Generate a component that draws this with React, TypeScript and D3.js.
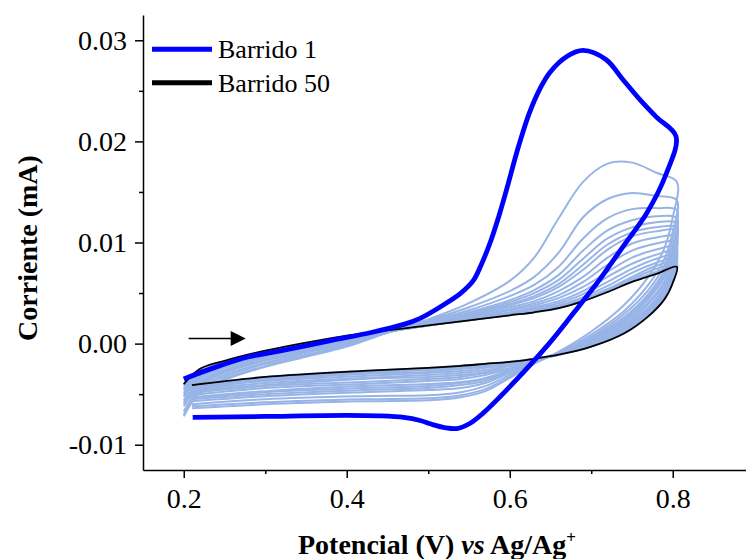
import React, { useEffect, useRef } from "react";
import * as d3 from "d3";

// potential grids (V) shared by the intermediate sweeps
const fwdPotential = [0.2, 0.22, 0.25, 0.3, 0.35, 0.4, 0.45, 0.5, 0.55, 0.6, 0.63, 0.66, 0.69, 0.72, 0.75, 0.78, 0.805];
const revPotential = [0.805, 0.8, 0.79, 0.77, 0.74, 0.7, 0.66, 0.63, 0.6, 0.57, 0.54, 0.5, 0.42, 0.3, 0.21];

// Barrido 1 (thick blue)
const barrido1FwdE = [0.2, 0.24, 0.28, 0.32, 0.38, 0.43, 0.47, 0.49, 0.52, 0.54, 0.555, 0.565, 0.576, 0.587, 0.596, 0.61, 0.624, 0.637, 0.649, 0.67, 0.69, 0.718, 0.739, 0.76, 0.78, 0.804];
const barrido1FwdI = [-0.0035, -0.0023, -0.0013, -0.0007, 0.0003, 0.0011, 0.0019, 0.0025, 0.0039, 0.005, 0.0062, 0.0078, 0.01, 0.0127, 0.0152, 0.0193, 0.0228, 0.0252, 0.0268, 0.0284, 0.029, 0.0281, 0.0261, 0.0241, 0.0224, 0.0205];
const barrido1RevE = [0.804, 0.792, 0.768, 0.739, 0.71, 0.678, 0.645, 0.596, 0.567, 0.551, 0.535, 0.52, 0.505, 0.49, 0.47, 0.44, 0.4, 0.3, 0.211];
const barrido1RevI = [0.0205, 0.0168, 0.0129, 0.0096, 0.0063, 0.003, -0.0003, -0.0046, -0.0069, -0.0079, -0.0084, -0.0083, -0.008, -0.0076, -0.0073, -0.00715, -0.0071, -0.0072, -0.0073];

// intermediate sweeps (light blue)
const sweep2Fwd = [-0.0072, -0.0048, -0.0036, -0.0023, -0.0013, -0.0003, 0.0011, 0.0024, 0.004, 0.0062, 0.0085, 0.0124, 0.016, 0.0178, 0.0179, 0.0169, 0.016];
const sweep2Rev = [0.016, 0.0125, 0.0095, 0.0066, 0.0038, 0.0012, -0.0008, -0.002, -0.0034, -0.0047, -0.0053, -0.0056, -0.0057, -0.006, -0.0064];
const sweep3Fwd = [-0.007, -0.0047, -0.0035, -0.0022, -0.0012, -0.0002, 0.0011, 0.0023, 0.0036, 0.0052, 0.0066, 0.009, 0.0125, 0.0143, 0.0149, 0.0146, 0.0142];
const sweep3Rev = [0.0142, 0.0111, 0.0084, 0.0058, 0.0032, 0.0009, -0.0009, -0.0019, -0.0033, -0.0045, -0.0051, -0.0054, -0.0055, -0.0058, -0.0062];
const sweep4Fwd = [-0.0067, -0.0044, -0.0033, -0.002, -0.0011, -0.0001, 0.0011, 0.0022, 0.0033, 0.0047, 0.0058, 0.0076, 0.0104, 0.0124, 0.0133, 0.0134, 0.0132];
const sweep4Rev = [0.0132, 0.0104, 0.0078, 0.0053, 0.0029, 0.0007, -0.0009, -0.0018, -0.0031, -0.0042, -0.0048, -0.0051, -0.0052, -0.0055, -0.006];
const sweep5Fwd = [-0.0062, -0.0042, -0.0031, -0.0019, -0.0009, 0.0, 0.0011, 0.0021, 0.0031, 0.0043, 0.0053, 0.0068, 0.0092, 0.0112, 0.0122, 0.0126, 0.0124];
const sweep5Rev = [0.0124, 0.0097, 0.0073, 0.0049, 0.0026, 0.0006, -0.0009, -0.0018, -0.0029, -0.0039, -0.0044, -0.0046, -0.0048, -0.0052, -0.0057];
const sweep6Fwd = [-0.006, -0.004, -0.0029, -0.0017, -0.0008, 0.0, 0.0011, 0.0021, 0.003, 0.0041, 0.005, 0.0063, 0.0084, 0.0104, 0.0115, 0.012, 0.0119];
const sweep6Rev = [0.0119, 0.0093, 0.007, 0.0047, 0.0024, 0.0005, -0.0009, -0.0018, -0.0028, -0.0037, -0.0041, -0.0044, -0.0046, -0.005, -0.0055];
const sweep7Fwd = [-0.0058, -0.0039, -0.0028, -0.0016, -0.0007, 0.0001, 0.0011, 0.002, 0.0029, 0.0039, 0.0047, 0.0059, 0.0078, 0.0098, 0.011, 0.0115, 0.0115];
const sweep7Rev = [0.0115, 0.009, 0.0068, 0.0045, 0.0023, 0.0004, -0.001, -0.0017, -0.0027, -0.0035, -0.0039, -0.0042, -0.0044, -0.0048, -0.0054];
const sweep8Fwd = [-0.0056, -0.0038, -0.0027, -0.0016, -0.0007, 0.0002, 0.0012, 0.002, 0.0028, 0.0038, 0.0045, 0.0056, 0.0073, 0.0093, 0.0106, 0.0111, 0.0112];
const sweep8Rev = [0.0112, 0.0088, 0.0066, 0.0044, 0.0022, 0.0003, -0.001, -0.0017, -0.0026, -0.0034, -0.0038, -0.004, -0.0042, -0.0047, -0.0053];
const sweep10Fwd = [-0.0053, -0.0036, -0.0026, -0.0014, -0.0005, 0.0002, 0.0012, 0.002, 0.0027, 0.0036, 0.0042, 0.0052, 0.0066, 0.0085, 0.0099, 0.0105, 0.0106];
const sweep10Rev = [0.0106, 0.0083, 0.0062, 0.0041, 0.002, 0.0002, -0.001, -0.0017, -0.0025, -0.0031, -0.0035, -0.0037, -0.004, -0.0044, -0.0051];
const sweep12Fwd = [-0.0051, -0.0034, -0.0024, -0.0013, -0.0005, 0.0003, 0.0012, 0.0019, 0.0026, 0.0034, 0.004, 0.0048, 0.0061, 0.0078, 0.0092, 0.0099, 0.0101];
const sweep12Rev = [0.0101, 0.008, 0.0059, 0.0039, 0.0018, 0.0002, -0.001, -0.0016, -0.0024, -0.0029, -0.0033, -0.0035, -0.0038, -0.0042, -0.0049];
const sweep15Fwd = [-0.0049, -0.0033, -0.0023, -0.0012, -0.0004, 0.0003, 0.0012, 0.0019, 0.0025, 0.0033, 0.0038, 0.0045, 0.0056, 0.0071, 0.0085, 0.0093, 0.0096];
const sweep15Rev = [0.0096, 0.0076, 0.0056, 0.0036, 0.0017, 0.0001, -0.001, -0.0016, -0.0022, -0.0028, -0.0031, -0.0033, -0.0035, -0.0041, -0.0047];
const sweep18Fwd = [-0.0047, -0.0032, -0.0022, -0.0011, -0.0003, 0.0004, 0.0012, 0.0019, 0.0025, 0.0031, 0.0036, 0.0042, 0.0052, 0.0066, 0.0079, 0.0088, 0.0092];
const sweep18Rev = [0.0092, 0.0072, 0.0054, 0.0034, 0.0015, 0.0, -0.001, -0.0016, -0.0022, -0.0026, -0.0029, -0.0031, -0.0034, -0.0039, -0.0046];
const sweep22Fwd = [-0.0045, -0.003, -0.0021, -0.001, -0.0002, 0.0005, 0.0012, 0.0018, 0.0024, 0.003, 0.0035, 0.004, 0.0049, 0.0061, 0.0074, 0.0084, 0.0088];
const sweep22Rev = [0.0088, 0.0069, 0.0051, 0.0033, 0.0014, -0.0001, -0.0011, -0.0016, -0.0021, -0.0024, -0.0027, -0.0029, -0.0032, -0.0037, -0.0045];
const sweep27Fwd = [-0.0044, -0.0029, -0.002, -0.001, -0.0001, 0.0005, 0.0012, 0.0018, 0.0024, 0.003, 0.0034, 0.0038, 0.0046, 0.0057, 0.007, 0.008, 0.0085];
const sweep27Rev = [0.0085, 0.0067, 0.005, 0.0031, 0.0013, -0.0001, -0.0011, -0.0016, -0.002, -0.0023, -0.0025, -0.0028, -0.003, -0.0036, -0.0044];
const sweep33Fwd = [-0.0042, -0.0028, -0.0019, -0.0009, -0.0001, 0.0005, 0.0012, 0.0018, 0.0023, 0.0029, 0.0033, 0.0037, 0.0044, 0.0054, 0.0066, 0.0077, 0.0082];
const sweep33Rev = [0.0082, 0.0065, 0.0048, 0.003, 0.0012, -0.0002, -0.0011, -0.0015, -0.0019, -0.0022, -0.0024, -0.0026, -0.0029, -0.0035, -0.0043];
const sweep40Fwd = [-0.0041, -0.0028, -0.0019, -0.0009, 0.0, 0.0006, 0.0012, 0.0018, 0.0023, 0.0029, 0.0032, 0.0036, 0.0043, 0.0053, 0.0064, 0.0074, 0.0079];
const sweep40Rev = [0.0079, 0.0062, 0.0046, 0.0029, 0.0011, -0.0002, -0.0011, -0.0015, -0.0019, -0.0021, -0.0023, -0.0025, -0.0028, -0.0034, -0.0042];
const sweep46Fwd = [-0.004, -0.0027, -0.0018, -0.0008, 0.0, 0.0006, 0.0012, 0.0018, 0.0023, 0.0028, 0.0031, 0.0035, 0.0042, 0.0052, 0.0062, 0.0071, 0.0077];
const sweep46Rev = [0.0077, 0.0061, 0.0045, 0.0028, 0.001, -0.0003, -0.0011, -0.0015, -0.0018, -0.002, -0.0022, -0.0024, -0.0027, -0.0033, -0.0041];

// Barrido 50 (black)
const barrido50Fwd = [-0.004, -0.0025, -0.0017, -0.0007, 0.0001, 0.0008, 0.0013, 0.0018, 0.0023, 0.0028, 0.0031, 0.0035, 0.0042, 0.0051, 0.0061, 0.0069, 0.0076];
const barrido50Rev = [0.0076, 0.006, 0.0044, 0.0027, 0.001, -0.0003, -0.0011, -0.0015, -0.0018, -0.002, -0.0022, -0.0024, -0.0027, -0.0033, -0.0041];

const lightSweeps = [
  [sweep2Fwd, sweep2Rev], [sweep3Fwd, sweep3Rev], [sweep4Fwd, sweep4Rev], [sweep5Fwd, sweep5Rev],
  [sweep6Fwd, sweep6Rev], [sweep7Fwd, sweep7Rev], [sweep8Fwd, sweep8Rev], [sweep10Fwd, sweep10Rev],
  [sweep12Fwd, sweep12Rev], [sweep15Fwd, sweep15Rev], [sweep18Fwd, sweep18Rev], [sweep22Fwd, sweep22Rev],
  [sweep27Fwd, sweep27Rev], [sweep33Fwd, sweep33Rev], [sweep40Fwd, sweep40Rev], [sweep46Fwd, sweep46Rev],
];

const yTicks = [-0.01, 0, 0.01, 0.02, 0.03];
const yMinorTicks = [-0.005, 0.005, 0.015, 0.025];
const xTicks = [0.2, 0.4, 0.6, 0.8];
const xMinorTicks = [0.3, 0.5, 0.7];

const legendItems = [
  { label: "Barrido 1", color: "#0000ff" },
  { label: "Barrido 50", color: "#000000" },
];

// scan direction arrow (V, mA)
const arrowE = [0.206, 0.276];
const arrowI = 0.0005;

const FONT = '"Liberation Serif", "Times New Roman", Times, serif';

const App = () => {
  const svgRef = useRef<SVGSVGElement>(null);

  useEffect(() => {
    const svg = d3.select(svgRef.current);
    svg.selectAll("*").remove();

    const x = d3.scaleLinear().domain([0.15, 0.9]).range([143, 754.25]);
    const y = d3.scaleLinear().domain([-0.0125, 0.0325]).range([470, 15]);

    const line = d3
      .line<[number, number]>()
      .x((d) => x(d[0]))
      .y((d) => y(d[1]))
      .curve(d3.curveCatmullRom.alpha(0.5));

    const loop = (fwd: number[], rev: number[]) =>
      fwdPotential
        .map((e, i) => [e, fwd[i]] as [number, number])
        .concat(revPotential.slice(1).map((e, i) => [e, rev[i + 1]] as [number, number]));

    // light sweeps
    lightSweeps.forEach(([fwd, rev]) => {
      svg
        .append("path")
        .attr("d", line(loop(fwd, rev)))
        .attr("fill", "none")
        .attr("stroke", "#98b4e7")
        .attr("stroke-width", 2);
    });

    // Barrido 50
    svg
      .append("path")
      .attr("d", line(loop(barrido50Fwd, barrido50Rev)))
      .attr("fill", "none")
      .attr("stroke", "#000")
      .attr("stroke-width", 1.8);

    // Barrido 1
    const b1 = barrido1FwdE
      .map((e, i) => [e, barrido1FwdI[i]] as [number, number])
      .concat(barrido1RevE.slice(1).map((e, i) => [e, barrido1RevI[i + 1]] as [number, number]));
    svg
      .append("path")
      .attr("d", line(b1))
      .attr("fill", "none")
      .attr("stroke", "#0000ff")
      .attr("stroke-width", 4.8)
      .attr("stroke-linejoin", "round");

    // axes
    const yAxis = svg
      .append("g")
      .attr("transform", "translate(143,0)")
      .call(
        d3
          .axisLeft(y)
          .tickValues(yTicks)
          .tickFormat((d) => (+d).toFixed(2))
          .tickSize(8)
          .tickPadding(8)
          .tickSizeOuter(0)
      );
    svg
      .append("g")
      .attr("transform", "translate(143,0)")
      .call(d3.axisLeft(y).tickValues(yMinorTicks).tickSize(4).tickFormat(() => ""))
      .call((g) => g.select(".domain").remove())
      .selectAll("line")
      .attr("stroke-width", 1.5);

    const xAxis = svg
      .append("g")
      .attr("transform", "translate(0,470)")
      .call(
        d3
          .axisBottom(x)
          .tickValues(xTicks)
          .tickFormat((d) => (+d).toFixed(1))
          .tickSize(8)
          .tickPadding(10)
          .tickSizeOuter(0)
      );
    svg
      .append("g")
      .attr("transform", "translate(0,470)")
      .call(d3.axisBottom(x).tickValues(xMinorTicks).tickSize(4).tickFormat(() => ""))
      .call((g) => g.select(".domain").remove())
      .selectAll("line")
      .attr("stroke-width", 1.5);

    [yAxis, xAxis].forEach((g) => {
      g.attr("font-size", 28).attr("font-family", FONT);
      g.select(".domain").attr("stroke-width", 1.5);
      g.selectAll(".tick line").attr("stroke-width", 1.5);
      g.selectAll("text").attr("fill", "#000");
    });

    // axis titles
    svg
      .append("text")
      .attr("transform", "translate(37,248) rotate(-90)")
      .attr("text-anchor", "middle")
      .attr("font-family", FONT)
      .attr("font-weight", "bold")
      .attr("font-size", 28)
      .text("Corriente (mA)");

    const xt = svg
      .append("text")
      .attr("x", 437)
      .attr("y", 554)
      .attr("text-anchor", "middle")
      .attr("font-family", FONT)
      .attr("font-weight", "bold")
      .attr("font-size", 28);
    xt.append("tspan").text("Potencial (V) ");
    xt.append("tspan").attr("font-style", "italic").text("vs");
    xt.append("tspan").text(" Ag/Ag");
    xt.append("tspan").attr("font-size", 17).attr("dy", -11).text("+");

    // arrow
    const ax0 = x(arrowE[0]);
    const ax1 = x(arrowE[1]);
    const ay = y(arrowI);
    svg
      .append("line")
      .attr("x1", ax0)
      .attr("x2", ax1 - 12)
      .attr("y1", ay)
      .attr("y2", ay)
      .attr("stroke", "#000")
      .attr("stroke-width", 1.5);
    svg
      .append("path")
      .attr("d", `M${ax1},${ay}L${ax1 - 15},${ay - 7.5}L${ax1 - 15},${ay + 7.5}Z`)
      .attr("fill", "#000");

    // legend
    const legend = svg.append("g");
    legendItems.forEach((item, i) => {
      const ly = 49.3 + i * 33.4;
      legend
        .append("line")
        .attr("x1", 152)
        .attr("x2", 212)
        .attr("y1", ly)
        .attr("y2", ly)
        .attr("stroke", item.color)
        .attr("stroke-width", 5);
      legend
        .append("text")
        .attr("x", 218)
        .attr("y", ly + 9)
        .attr("font-family", FONT)
        .attr("font-size", 26)
        .attr("fill", "#000")
        .text(item.label);
    });
  }, []);

  return (
    <svg
      ref={svgRef}
      width={746}
      height={559}
      style={{ position: "absolute", left: 0, top: 0, background: "#fff" }}
    />
  );
};

export default App;
